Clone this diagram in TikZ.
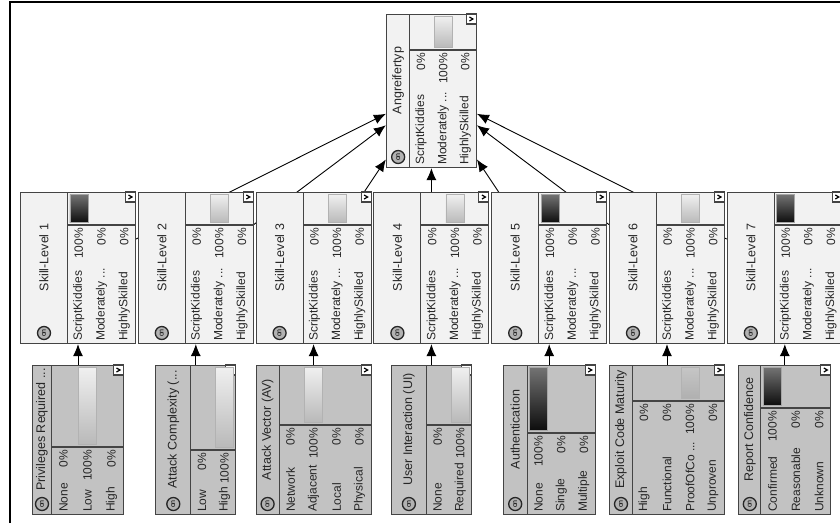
\documentclass[tikz,border=0pt]{standalone}
\usepackage{fontspec}
\setmainfont{Liberation Sans}
\usetikzlibrary{arrows.meta, calc}
\definecolor{nodeLine}{HTML}{444444}
\definecolor{nodeFill}{HTML}{F2F2F2}
\definecolor{evidFill}{HTML}{C2C2C2}

\pgfdeclarelayer{background}
\pgfsetlayers{background,main}

\tikzset{
  bnbox/.style={rectangle, draw=nodeLine, line width=1.1pt, fill=#1, inner sep=0pt, anchor=north},
  bnline/.style={draw=nodeLine, line width=1.1pt},
  bntitle/.style={rotate=90, font=\fontsize{12.5}{14}\selectfont, text=black!85, inner sep=0pt},
  bnstate/.style={rotate=90, font=\fontsize{12}{14}\selectfont, text=black!85, inner sep=0pt},
  onicon/.style={circle, draw=black!85, fill=gray!60, line width=1.3pt, minimum size=13pt,
    inner sep=0pt, rotate=90, font=\fontsize{7}{7}\selectfont},
  bardark/.style={draw=gray!70, top color=black!55, bottom color=black!95},
  barlight/.style={draw=gray!60, top color=gray!12, bottom color=gray!55},
  barmid/.style={draw=gray!60, top color=gray!45, bottom color=gray!62},
  infl/.style={-{Latex[length=12pt,width=10pt]}, line width=0.9pt}
}

% cut-off label, kept out of \foreach's reach
\newcommand{\trunc}{...}

% one GeNIe node, turned on its side; row top, bottom and fill come from \rowtop, \rowbot, \rowfill
\newcount\bnn
\newcommand{\bnnode}[8]{%
  % #1 name, #2 centre x, #3 width, #4 title width, #5 bar height,
  % #6 title, #7 bar column/style, #8 states label/percent
  \global\bnn=0
  \foreach \s in {#8}{\global\advance\bnn by 1}
  \pgfmathsetmacro{\lx}{#2-#3/2}
  \pgfmathsetmacro{\rx}{#2+#3/2}
  \pgfmathsetmacro{\cw}{(#3-#4)/\the\bnn}
  \node[bnbox=\rowfill, minimum width=#3pt, minimum height={(\rowbot-\rowtop)*1pt}] (#1) at (#2,\rowtop) {};
  \draw[bnline] (\lx+#4,\rowtop) -- (\lx+#4,\rowbot);
  \draw[bnline] (\lx+#4,\rowtop+#5) -- (\rx,\rowtop+#5);
  \draw[bnline, fill=white] (\rx-10,\rowtop) rectangle (\rx,\rowtop+10);
  \draw[line width=1.2pt] (\rx-7,\rowtop+3) -- (\rx-3.5,\rowtop+5) -- (\rx-7,\rowtop+7);
  \node[onicon] (#1-on) at (\lx+#4/2,\rowbot-10) {on};
  \node[bntitle] (#1-title) at (\lx+#4/2,{(\rowtop+\rowbot-20)/2}) {#6};
  \foreach \c/\st in {#7}{
    \pgfmathsetmacro{\bx}{\lx+#4+(\c-0.5)*\cw}
    \draw[\st] (\bx-9,\rowtop+2.5) rectangle (\bx+9,\rowtop+#5-2.5);
  }
  \foreach \lab/\pc [count=\i] in {#8}{
    \pgfmathsetmacro{\sx}{\lx+#4+(\i-0.5)*\cw}
    \node[bnstate, anchor=west] at (\sx,\rowbot-2) {\lab};
    \node[bnstate, anchor=east] at (\sx,\rowtop+#5+3) {\pc};
  }
}

\begin{document}
\begin{tikzpicture}[x=1pt,y=-1pt]
\useasboundingbox (0,0) rectangle (840,523);
\clip (0,0) rectangle (840,523);
\draw[line width=1.8pt] (10,523) -- (10,2) -- (840,2);

\def\rowfill{nodeFill}
\def\rowtop{14}\def\rowbot{167}
\bnnode{ang}{431.4}{90}{23.5}{36}{Angreifertyp}{2/barlight}{ScriptKiddies/0\%, Moderately \trunc/100\%, HighlySkilled/0\%}

\def\rowtop{192}\def\rowbot{343}
\bnnode{sl1}{78}{115}{47}{33}{Skill-Level 1}{1/bardark}{ScriptKiddies/100\%, Moderately \trunc/0\%, HighlySkilled/0\%}
\bnnode{sl2}{195.8}{115}{47}{33}{Skill-Level 2}{2/barlight}{ScriptKiddies/0\%, Moderately \trunc/100\%, HighlySkilled/0\%}
\bnnode{sl3}{313.6}{115}{47}{33}{Skill-Level 3}{2/barlight}{ScriptKiddies/0\%, Moderately \trunc/100\%, HighlySkilled/0\%}
\bnnode{sl4}{431.4}{115}{47}{33}{Skill-Level 4}{2/barlight}{ScriptKiddies/0\%, Moderately \trunc/100\%, HighlySkilled/0\%}
\bnnode{sl5}{549.2}{115}{47}{33}{Skill-Level 5}{1/bardark}{ScriptKiddies/100\%, Moderately \trunc/0\%, HighlySkilled/0\%}
\bnnode{sl6}{667}{115}{47}{33}{Skill-Level 6}{2/barlight}{ScriptKiddies/0\%, Moderately \trunc/100\%, HighlySkilled/0\%}
\bnnode{sl7}{784.8}{115}{47}{33}{Skill-Level 7}{1/bardark}{ScriptKiddies/100\%, Moderately \trunc/0\%, HighlySkilled/0\%}

\def\rowfill{evidFill}
\def\rowtop{365}\def\rowbot{514}
\bnnode{pr}{78}{91}{19}{82}{Privileges Required \trunc}{2/barlight}{None/0\%, Low/100\%, High/0\%}
\bnnode{ac}{195.8}{80}{35}{85}{Attack Complexity (\trunc}{2/barlight}{Low/0\%, High/100\%}
\bnnode{av}{313.6}{115}{23}{60}{Attack Vector (AV)}{2/barlight}{Network/0\%, Adjacent/100\%, Local/0\%, Physical/0\%}
\bnnode{ui}{431.4}{80}{35}{60}{User Interaction (UI)}{2/barlight}{None/0\%, Required/100\%}
\bnnode{au}{549.2}{92}{24}{68}{Authentication}{1/bardark}{None/100\%, Single/0\%, Multiple/0\%}
\bnnode{ec}{667}{115}{23}{36}{Exploit Code Maturity}{3/barmid}{High/0\%, Functional/0\%, ProofOfCo \trunc/100\%, Unproven/0\%}
\bnnode{rc}{784.8}{92}{22}{43}{Report Confidence}{1/bardark}{Confirmed/100\%, Reasonable/0\%, Unknown/0\%}

\begin{pgfonlayer}{background}
\foreach \s in {1,...,7} \draw[infl] (sl\s) -- (ang);
\foreach \e/\s in {pr/1, ac/2, av/3, ui/4, au/5, ec/6, rc/7} \draw[infl] (\e) -- (sl\s);
\end{pgfonlayer}
\end{tikzpicture}
\end{document}
